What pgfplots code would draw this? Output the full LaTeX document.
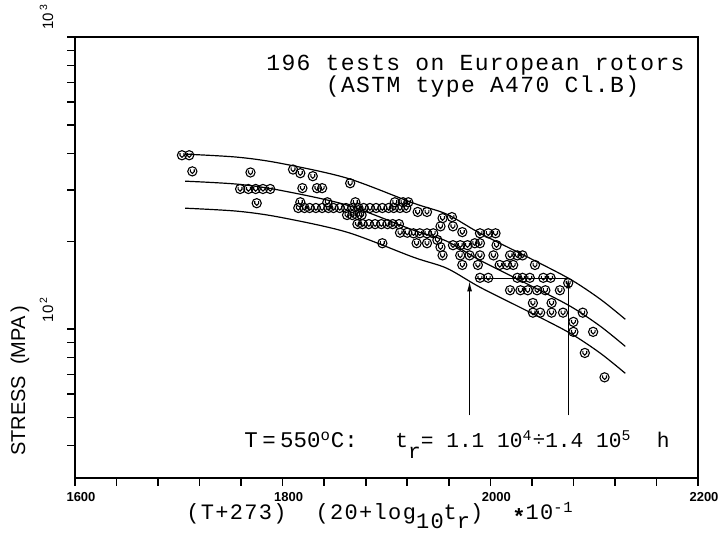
\documentclass[border=0pt]{standalone}
\usepackage{fontspec}
\setsansfont{Liberation Sans}
\newfontfamily\tw[LetterSpace=6]{Liberation Mono}
\newfontfamily\twn{Liberation Mono}
\usepackage{pgfplots}
\pgfplotsset{compat=1.18}
\usetikzlibrary{arrows.meta}

% circle with a small U inside, as on the old plotter sheet
\pgfdeclareplotmark{cu}{%
  \pgfpathcircle{\pgfpointorigin}{\pgfplotmarksize}\pgfusepathqstroke
  \pgfpathmoveto{\pgfpoint{-0.42\pgfplotmarksize}{0.45\pgfplotmarksize}}
  \pgfpathlineto{\pgfpoint{-0.42\pgfplotmarksize}{-0.05\pgfplotmarksize}}
  \pgfpatharc{180}{360}{0.42\pgfplotmarksize}
  \pgfpathlineto{\pgfpoint{0.42\pgfplotmarksize}{0.45\pgfplotmarksize}}
  \pgfusepathqstroke}

\begin{document}
\begin{tikzpicture}
\path[use as bounding box] (-37.5pt,-38.5pt) rectangle (324pt,239pt);
\begin{axis}[
  width=311.5pt, height=220.5pt, scale only axis,
  xmin=1600, xmax=2200, ymin=31, ymax=1000, ymode=log,
  axis line style={line width=0.65pt},
  tick align=outside, tick pos=left,
  major tick length=3.8pt, minor tick length=3.8pt,
  every tick/.style={line width=0.8pt, black},
  every minor tick/.style={line width=0.7pt, black},
  xtick={1600,1640,1680,1720,1760,1800,1840,1880,1920,1960,2000,2040,2080,2120,2160,2200},
  xticklabels={1600,{},{},{},{},1800,{},{},{},{},2000,{},{},{},{},2200},
  ytick={100,1000}, yticklabels={{10\,\textsuperscript{2}},{10\,\textsuperscript{3}}},
  minor ytick={40,50,60,70,80,90,200,300,400,500,600,700,800,900},
  xticklabel style={font=\sffamily\bfseries\fontsize{6.5}{7}\selectfont, xshift=3pt},
  yticklabel style={font=\sffamily\fontsize{7.5}{8}\selectfont, rotate=90, anchor=south west},
  yticklabel shift=3.5pt,
  clip=false,
]
% scatter band, 550 C tests
\addplot[only marks, mark=cu, mark size=2.3pt, mark options={line width=0.55pt}] coordinates {
(1703,394) (1710,394) (1713,347)
(1769,344) (1759,302) (1767,302) (1774,302) (1781,302) (1788,302) (1775,270)
(1810,352) (1817,342) (1829,334) (1865,316)
(1819,304) (1833,304) (1838,304)
(1817,272) (1843,272) (1870,272) (1908,272) (1916,272) (1921,272)
(1815,260) (1821,260) (1826,260) (1832,260) (1838,260) (1844,260) (1849,260)
(1855,260) (1861,260) (1867,260) (1873,260) (1878,260) (1884,260) (1890,260)
(1896,260) (1902,260) (1907,260) (1913,260) (1919,260)
(1862,246) (1867,246) (1872,246) (1876,246)
(1872,229) (1877,229) (1883,229) (1889,229) (1895,229) (1901,229) (1906,229) (1912,229)
(1930,252) (1939,252)
(1913,214) (1920,214) (1926,213) (1932,213) (1939,213) (1945,213)
(1954,240) (1963,242) (1952,225) (1964,225)
(1929,197) (1939,197) (1949,202) (1952,191) (1954,179)
(1964,194) (1971,194) (1978,194)
(1973,215) (1990,213) (1998,213) (2005,213)
(1985,197) (1990,197)
(1973,166) (1988,166)
(1971,179) (1980,179) (1990,179)
(2003,179) (2006,194)
(2009,166) (2016,166) (2022,166)
(2019,179) (2026,179) (2031,179)
(2043,166)
(1990,150) (1998,150) (2026,150) (2031,150) (2038,150) (2051,150) (2058,150)
(2019,136) (2029,136) (2036,136) (2045,136) (2053,136) (2067,136)
(2075,144)
(2041,123) (2059,123)
(2041,114) (2048,114) (2059,114) (2070,114)
(2089,114) (2080,106) (2080,98) (2099,98) (2091,83) (2110,68.5)
(1896,197)
};
% upper, mean and lower curves
\addplot[line width=0.6pt, smooth] coordinates {
(1706,397.5) (1756,388.2) (1797,370.3) (1862,328.9) (1926,270.1) (1958,247.7)
(1990,213.2) (2038,175.1) (2077,148.3) (2106,126.7) (2130,108.2)};
\addplot[line width=0.6pt, smooth] coordinates {
(1706,321.2) (1756,313.8) (1797,299.2) (1862,265.9) (1926,218.3) (1958,200.2)
(1990,172.3) (2038,141.5) (2077,119.9) (2106,102.4) (2130,87.4)};
\addplot[line width=0.6pt, smooth] coordinates {
(1706,259.6) (1756,253.6) (1797,241.9) (1862,214.9) (1926,176.4) (1958,161.8)
(1990,139.3) (2038,114.4) (2077,96.9) (2106,82.8) (2130,70.7)};
% rupture time limits
\addplot[line width=0.5pt, -{Latex[length=5pt,width=2.4pt]}] coordinates {(1980,50.8) (1980,146)};
\addplot[line width=0.5pt, -{Latex[length=5pt,width=2.4pt]}] coordinates {(2075,50.8) (2075,149.5)};
\addplot[line width=0.5pt] coordinates {(1986,149.5) (2075,149.5)};
\end{axis}
\node[font=\tw\fontsize{11.5}{12}\selectfont] at (200.25pt,206.5pt) {196 tests on European rotors};
\node[font=\tw\fontsize{11.5}{12}\selectfont] at (203.75pt,195.5pt) {(ASTM type A470 Cl.B)};
\node[font=\twn\fontsize{11.2}{12}\selectfont, anchor=base west, inner sep=0pt] at (84.5pt,15pt)
  {T\hspace{0.2em}=\hspace{0.2em}550\textsuperscript{o}C:};
\node[font=\twn\fontsize{10.6}{12}\selectfont, anchor=base west, inner sep=0pt] at (160pt,15pt)
  {t\raisebox{-0.9ex}{r}= 1.1 10\textsuperscript{4}\raisebox{0.1ex}{÷}1.4 10\textsuperscript{5}\ \ h};
\node[font=\tw\fontsize{11}{12}\selectfont, anchor=base] at (152.5pt,-21pt)
  {(T+273)\ \ (20+log\raisebox{-0.7ex}{10}t\raisebox{-0.7ex}{r})\ \ \raisebox{-0.35ex}{\bfseries *}10\textsuperscript{-1}};
\node[font=\sffamily\fontsize{10}{10}\selectfont, rotate=90] at (-27.5pt,48.5pt) {STRESS\ \ (MPA\,)};
\end{tikzpicture}
\end{document}
